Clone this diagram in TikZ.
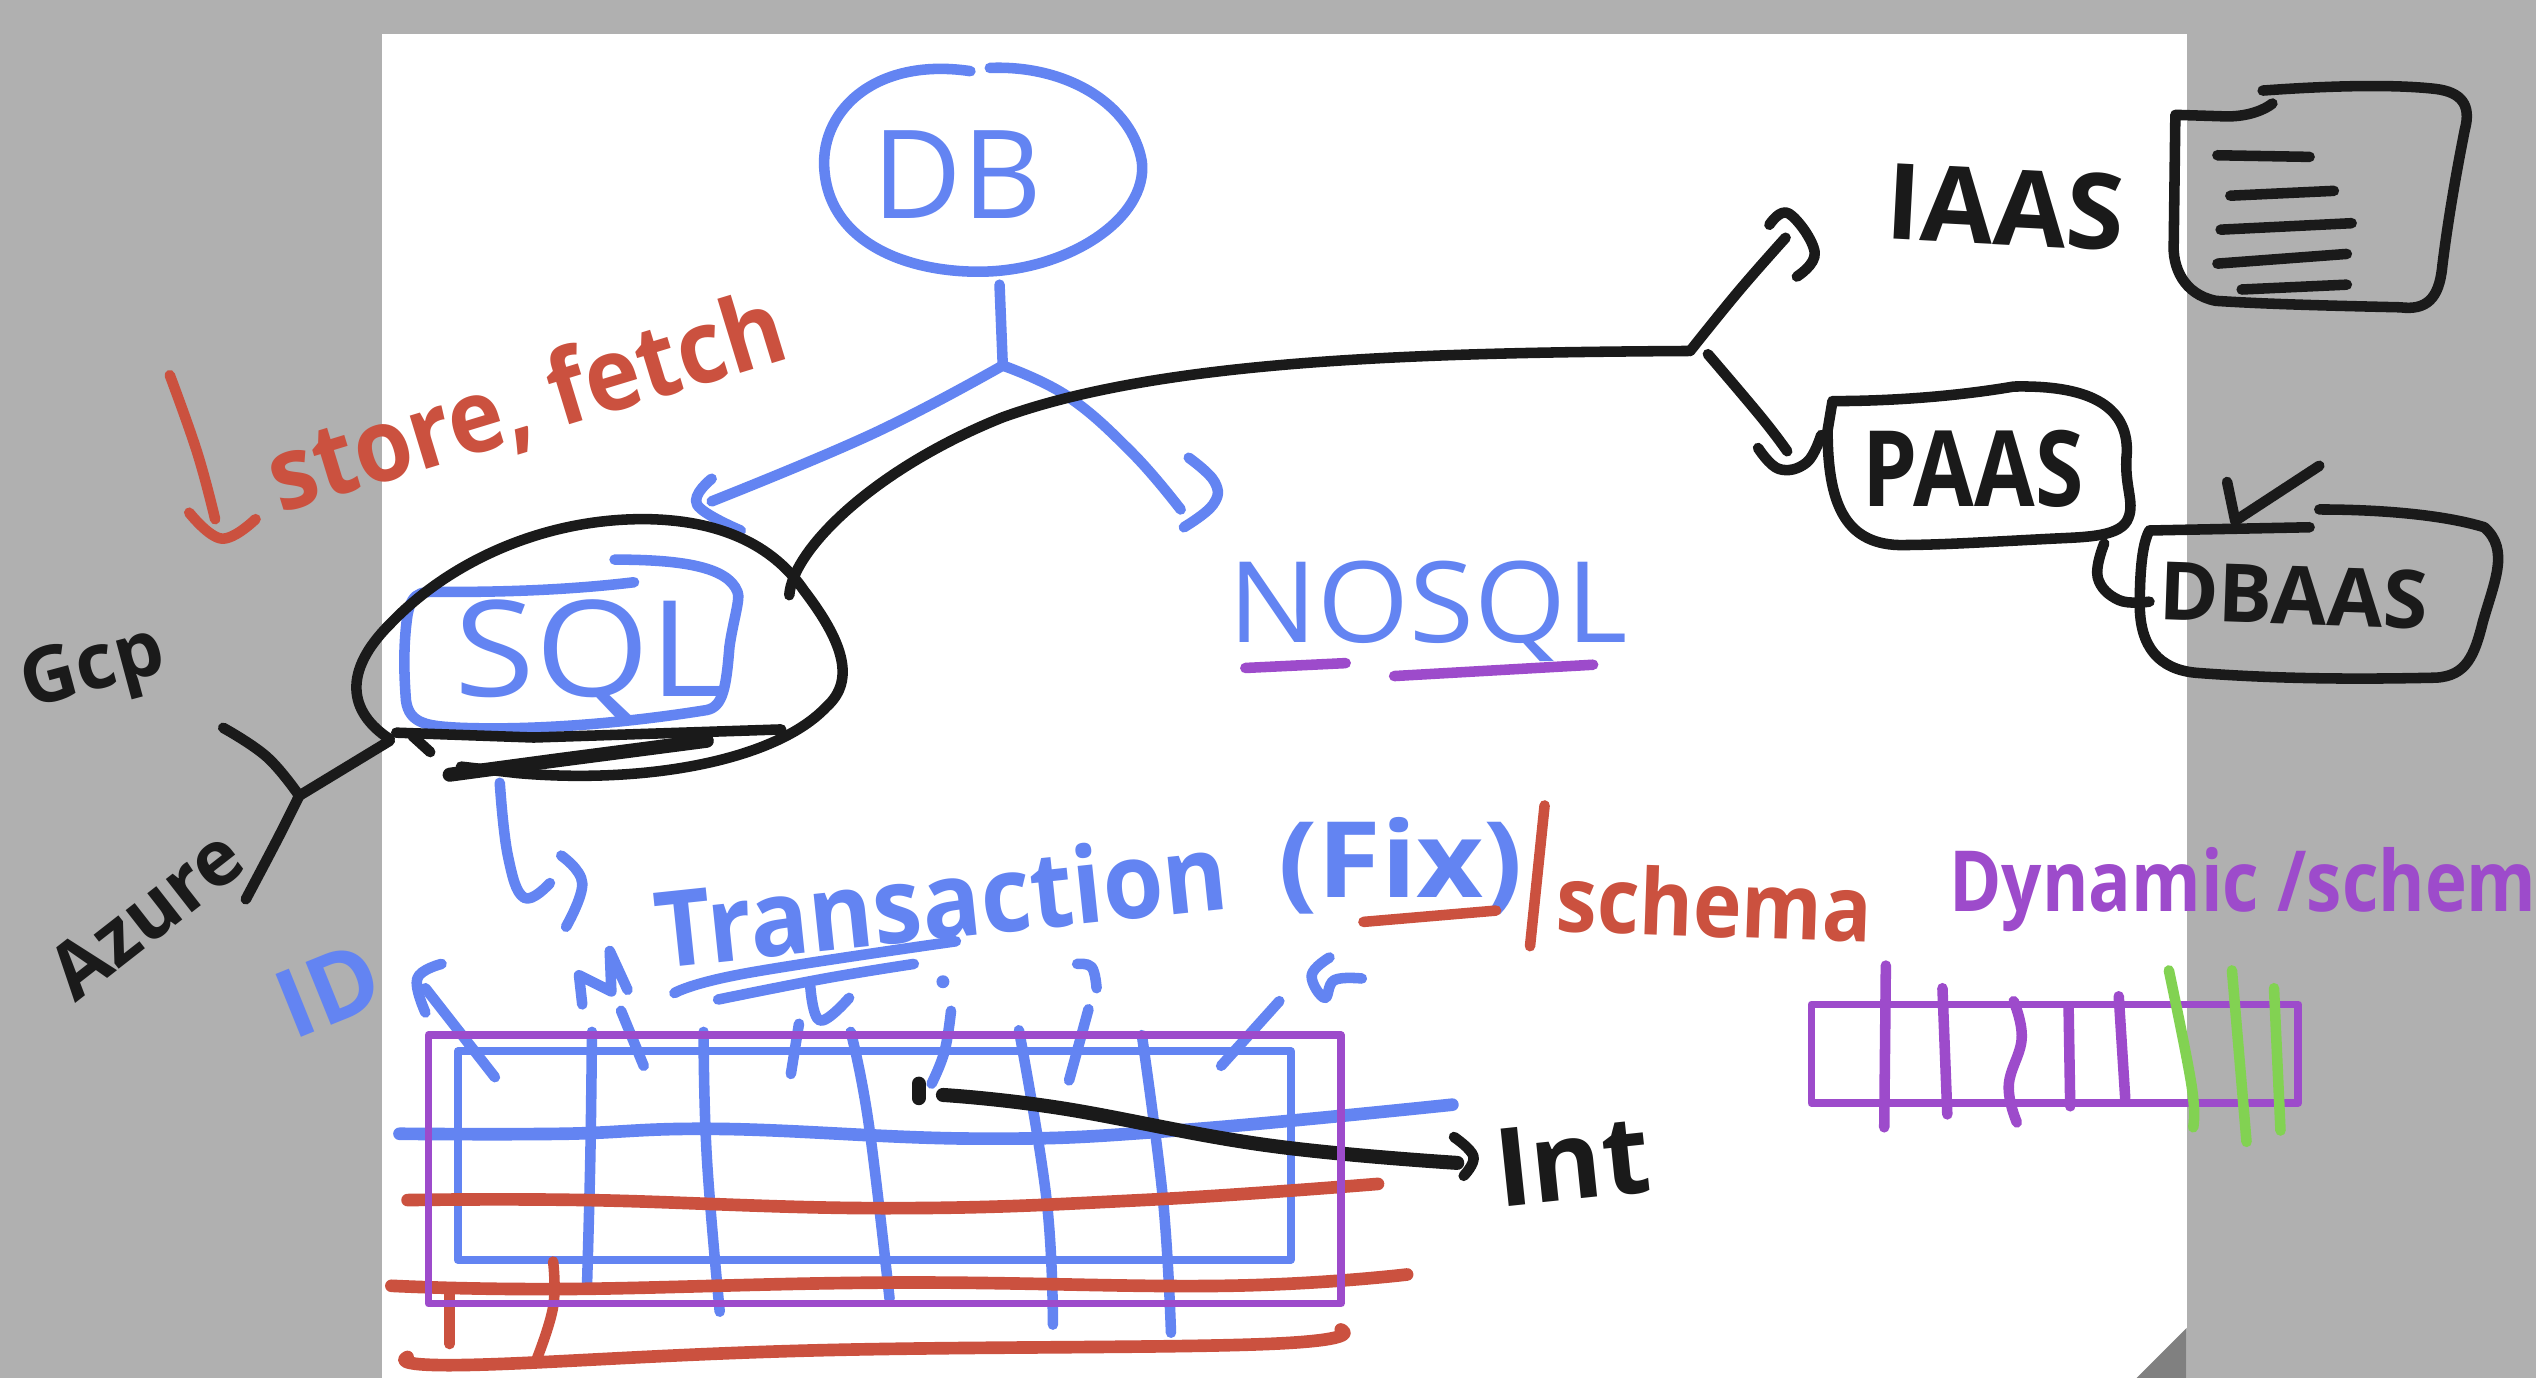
\documentclass[tikz,border=0pt]{standalone}
\usepackage{fontspec}
\setmainfont{Open Sans}
\definecolor{inkblack}{HTML}{1A1A1A}
\definecolor{inkblue}{HTML}{6384F2}
\definecolor{inkred}{HTML}{CB513F}
\definecolor{inkpurple}{HTML}{9D4BCB}
\definecolor{inkgreen}{HTML}{82D252}
\definecolor{desk}{HTML}{B0B0B0}
\definecolor{fold}{HTML}{808080}
\tikzset{
	pen/.style={line width=3pt,line cap=round,line join=round,smooth,tension=0.7},
	blackpen/.style={pen,color=inkblack},
	bluepen/.style={pen,color=inkblue},
	redpen/.style={pen,color=inkred},
	purplepen/.style={pen,color=inkpurple},
	greenpen/.style={pen,color=inkgreen},
	hand/.style={inner sep=0pt,font=\fontsize{#1pt}{#1pt}\selectfont},
	boldhand/.style={inner sep=0pt,font=\fontsize{#1pt}{#1pt}\selectfont\bfseries}
}
\begin{document}
\begin{tikzpicture}[x=0.16173mm,y=-0.16173mm]
	\useasboundingbox (0,0) rectangle (1568,852);
	% sheet
	\fill[desk] (0,0) rectangle (1568,852);
	\fill[white] (236,21) rectangle (1352,852);
	\fill[fold] (1352,821) -- (1321,852) -- (1352,852) -- cycle;
	% forks
	\coordinate (dbfork) at (620,226);
	\coordinate (cloudfork) at (1045,217);
	\coordinate (gcpfork) at (185,492);
	\coordinate (sqlblob) at (488,368);
	% DB
	\draw[bluepen] (600,44) .. controls (540,35) and (505,70) .. (510,108) .. controls (515,150) and (560,168) .. (605,168) .. controls (660,168) and (710,135) .. (706,100) .. controls (700,65) and (660,40) .. (612,42);
	\node[hand=35,text=inkblue] (dbtext) at (592,108) {DB};
	\draw[bluepen] (618,176) -- (dbfork);
	\draw[bluepen] plot coordinates {(dbfork) (540,268) (440,310)};
	\draw[bluepen] plot coordinates {(440,296) (431,312) (458,328)};
	\draw[bluepen] plot coordinates {(dbfork) (660,245) (700,280) (730,315)};
	\draw[bluepen] plot coordinates {(735,283) (751,298) (750,312) (732,326)};
	% store, fetch
	\draw[redpen] plot coordinates {(105,232) (122,280) (133,321)};
	\draw[redpen] plot coordinates {(117,317) (137,333) (158,321)};
	\node[boldhand=29,rotate=17,xscale=.92,text=inkred] (storetext) at (326,250) {store, fetch};
	% SQL
	\draw[bluepen] (392,360) .. controls (350,365) and (310,366) .. (277,366) .. controls (262,366) and (255,364) .. (252,380) .. controls (249,400) and (250,420) .. (251,433) .. controls (253,448) and (265,449) .. (285,450) .. controls (340,452) and (400,445) .. (437,439) .. controls (447,437) and (449,425) .. (451,400) .. controls (453,385) and (458,370) .. (456,366) .. controls (450,350) and (420,346) .. (380,346);
	\node[hand=38,xscale=1.1,text=inkblue] (sqltext) at (365,408) {SQL};
	\draw[blackpen] (241,457) .. controls (215,440) and (212,415) .. (241,386) .. controls (280,345) and (340,320) .. (401,321) .. controls (450,322) and (480,340) .. (497,365) .. controls (520,395) and (530,420) .. (511,437) .. controls (480,470) and (400,485) .. (320,478) -- (285,474);
	\draw[blackpen] (245,453) -- (330,456) -- (483,451);
	\draw[blackpen,line width=4pt] (278,479) -- (345,470) -- (437,458);
	\draw[blackpen] (255,455) -- (266,465);
	% clouds
	\draw[blackpen] (sqlblob) .. controls (490,340) and (540,290) .. (620,258) .. controls (720,222) and (880,218) .. (cloudfork);
	\draw[blackpen] (gcpfork) -- (241,458);
	\draw[blackpen] plot coordinates {(gcpfork) (165,468) (138,450)};
	\draw[blackpen] plot coordinates {(gcpfork) (172,518) (152,556)};
	\node[boldhand=22,rotate=15,text=inkblack] (gcptext) at (58,415) {Gcp};
	\node[boldhand=22,rotate=38,text=inkblack] (azuretext) at (90,565) {Azure};
	% IAAS
	\draw[blackpen] plot coordinates {(cloudfork) (1075,180) (1104,147)};
	\draw[blackpen] plot coordinates {(1094,139) (1106,132) (1122,156) (1111,171)};
	\node[boldhand=30,rotate=-3,text=inkblack] (iaastext) at (1240,128) {IAAS};
	\draw[blackpen] (1399,56) .. controls (1440,53) and (1480,52) .. (1506,55) .. controls (1522,57) and (1528,65) .. (1524,80) .. controls (1518,110) and (1513,140) .. (1510,165) .. controls (1508,185) and (1500,192) .. (1484,190) .. controls (1440,189) and (1400,188) .. (1370,186) .. controls (1350,182) and (1343,165) .. (1344,150) -- (1345,71) -- (1377,72) .. controls (1390,72) and (1400,68) .. (1405,64);
	\draw[blackpen] (1371,96) -- (1428,97);
	\draw[blackpen] (1379,121) -- (1443,118);
	\draw[blackpen] (1373,142) -- (1454,138);
	\draw[blackpen] (1371,163) -- (1451,157);
	\draw[blackpen] (1386,179) -- (1451,176);
	% PAAS
	\draw[blackpen] plot coordinates {(1056,219) (1089,258) (1105,279)};
	\draw[blackpen] plot coordinates {(1087,277) (1100,290) (1117,286) (1126,269)};
	\draw[blackpen] (1133,248) .. controls (1170,248) and (1210,245) .. (1245,239) .. controls (1290,238) and (1316,250) .. (1315,280) .. controls (1313,300) and (1320,310) .. (1316,320) .. controls (1312,332) and (1290,332) .. (1270,333) .. controls (1230,335) and (1200,337) .. (1174,337) .. controls (1140,336) and (1130,310) .. (1130,266) -- (1133,248);
	\node[boldhand=25,yscale=1.2,text=inkblack] (paastext) at (1220,290) {PAAS};
	% DBAAS
	\draw[blackpen] plot coordinates {(1301,336) (1297,357) (1310,371) (1329,372)};
	\draw[blackpen] (1428,326) -- (1329,328) .. controls (1325,335) and (1323,350) .. (1323,374) .. controls (1323,400) and (1335,414) .. (1358,416) .. controls (1410,420) and (1460,420) .. (1506,419) .. controls (1525,418) and (1530,405) .. (1535,385) .. controls (1542,360) and (1552,340) .. (1536,326) .. controls (1510,318) and (1470,315) .. (1434,315);
	\node[boldhand=23,rotate=-2,text=inkblack] (dbaastext) at (1418,368) {DBAAS};
	\draw[blackpen] (1377,298) -- (1382,322) -- (1434,288);
	% NOSQL
	\node[hand=32,xscale=1.05,text=inkblue] (nosqltext) at (883,378) {NOSQL};
	\draw[purplepen] (770,413) -- (832,410);
	\draw[purplepen] (862,418) -- (985,411);
	% transaction
	\draw[bluepen] plot coordinates {(309,484) (314,529) (324,555) (340,546)};
	\draw[bluepen] plot coordinates {(347,529) (360,546) (350,573)};
	\node[boldhand=30,rotate=6,xscale=.93,text=inkblue] (transtext) at (582,556) {Transaction};
	\node[boldhand=30,xscale=1.1,text=inkblue] (fixtext) at (866,535) {(Fix)};
	\draw[redpen] (843,570) -- (925,563);
	\draw[bluepen] plot coordinates {(417,614) (460,602) (591,582)};
	\draw[bluepen] plot coordinates {(444,618) (510,605) (565,596)};
	% schema
	\draw[redpen] (955,498) -- (946,585);
	\node[boldhand=26,rotate=-2,xscale=.9,text=inkred] (schematext) at (1060,558) {schema};
	\node[boldhand=24,xscale=.84,anchor=west,text=inkpurple] (dynamictext) at (1205,550) {Dynamic /schem};
	% table
	\draw[bluepen,line width=2.2pt] (283,650) rectangle (798,779);
	\foreach \xa/\ya/\xb/\yb/\xc/\yc in {366/638/365/715/363/793,435/638/437/715/445/811,526/638/537/694/550/803,630/637/647/741/651/819,706/640/719/741/724/824}
		\draw[bluepen] plot coordinates {(\xa,\ya) (\xb,\yb) (\xc,\yc)};
	\draw[bluepen,line width=3.6pt] plot coordinates {(247,701) (348,701) (445,698) (604,704) (727,699) (898,683)};
	\draw[redpen,line width=3.6pt] plot coordinates {(252,742) (363,742) (547,747) (706,742) (852,732)};
	\draw[redpen,line width=3.6pt] plot coordinates {(242,795) (348,797) (552,793) (758,795) (870,788)};
	\draw[redpen,line width=3.6pt] plot coordinates {(252,839) (286,844) (501,835) (783,831) (829,822)};
	\draw[redpen] (278,798) -- (278,831);
	\draw[redpen] plot coordinates {(342,780) (342,808) (332,840)};
	% column arrows
	\node[boldhand=27,rotate=22,text=inkblue] (idtext) at (203,612) {ID};
	\draw[bluepen] (263,611) -- (306,666);
	\draw[bluepen] plot coordinates {(273,596) (258,605) (263,626)};
	\draw[bluepen] (360,621) -- (358,603) -- (378,613) -- (377,588) -- (388,612);
	\draw[bluepen] (384,625) -- (398,659);
	\draw[bluepen] plot coordinates {(501,610) (507,631) (525,617)};
	\draw[bluepen] (494,633) -- (489,664);
	\fill[inkblue] (583,607) circle (4);
	\draw[bluepen] plot coordinates {(588,625) (584,650) (576,670)};
	\draw[bluepen] plot coordinates {(666,596) (675,598) (678,611)};
	\draw[bluepen] (673,624) -- (661,668);
	\draw[bluepen] plot coordinates {(822,592) (811,603) (819,617) (825,606) (842,605)};
	\draw[bluepen] (791,619) -- (755,659);
	% Int
	\draw[blackpen,line width=4pt] (568,670) -- (568,679);
	\draw[blackpen,line width=4pt] plot coordinates {(583,677) (655,685) (783,708) (901,719)};
	\draw[blackpen] plot coordinates {(899,703) (911,715) (905,727)};
	\node[boldhand=31,rotate=6,text=inkblack] (inttext) at (972,718) {Int};
	% purple table frame on top
	\draw[purplepen,line width=2.2pt] (265,640) rectangle (829,806);
	% dynamic row
	\draw[purplepen] (1166,597) -- (1165,697);
	\draw[purplepen] (1201,611) -- (1204,689);
	\draw[purplepen] plot coordinates {(1245,619) (1250,642) (1242,671) (1247,694)};
	\draw[purplepen] (1279,623) -- (1280,684);
	\draw[purplepen] (1310,616) -- (1314,679);
	\draw[purplepen,line width=2.2pt] (1120,621) rectangle (1421,682);
	\draw[greenpen] plot coordinates {(1341,600) (1355,671) (1356,697)};
	\draw[greenpen] (1380,600) -- (1389,706);
	\draw[greenpen] (1406,611) -- (1410,699);
\end{tikzpicture}
\end{document}
